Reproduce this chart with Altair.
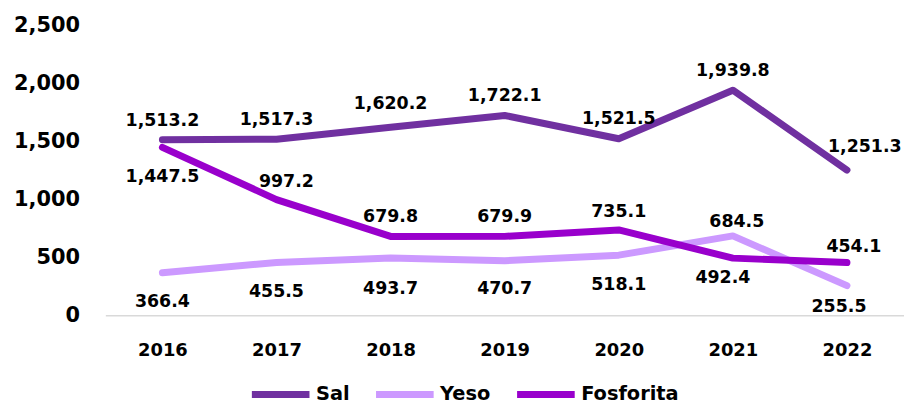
import altair as alt
import pandas as pd

years = [2016, 2017, 2018, 2019, 2020, 2021, 2022]
series_names = ["Sal", "Yeso", "Fosforita"]
sal = [1513.2, 1517.3, 1620.2, 1722.1, 1521.5, 1939.8, 1251.3]
yeso = [366.4, 455.5, 493.7, 470.7, 518.1, 684.5, 255.5]
fosforita = [1447.5, 997.2, 679.8, 679.9, 735.1, 492.4, 454.1]
y_ticks = [0, 500, 1000, 1500, 2000, 2500]

colors = ["#7030A0", "#CC99FF", "#9900CC"]

# label placement (pixel offsets, style only)
label_dy = {
    "Sal": [-19, -19, -23, -20, -20, -19, -23],
    "Yeso": [29, 30, 31, 29, 30, -14, 22],
    "Fosforita": [30, -18, -19, -19, -18, 20, -16],
}
label_dx = {
    "Sal": [0, 0, 0, 0, 0, 0, 18],
    "Yeso": [0, 0, 0, 0, 0, 4, -8],
    "Fosforita": [0, 10, 0, 0, 0, -10, 7],
}

W, H = 804, 292
Y_MAX = 2500
X_MIN, X_MAX = 2015.5, 2022.5

values = {"Sal": sal, "Yeso": yeso, "Fosforita": fosforita}
rows = []
for s in series_names:
    for i, y in enumerate(years):
        rows.append({"year": y, "series": s, "value": values[s][i],
                     "dy": label_dy[s][i], "dx": label_dx[s][i]})
df = pd.DataFrame(rows)

FONT = "DejaVu Sans"

x_scale = alt.Scale(domain=[X_MIN, X_MAX], nice=False, zero=False)
y_scale = alt.Scale(domain=[0, Y_MAX], nice=False)

x_enc = alt.X("year:Q", scale=x_scale,
              axis=alt.Axis(title=None, values=years, format="d", labelAngle=0,
                            ticks=False, grid=False,
                            domainColor="#d9d9d9", domainWidth=1.5,
                            labelFont=FONT, labelFontSize=18, labelFontWeight="bold",
                            labelColor="#000000", labelPadding=26))
y_enc = alt.Y("value:Q", scale=y_scale,
              axis=alt.Axis(title=None, values=y_ticks, format=",.0f", grid=False,
                            domain=False, ticks=False, labelFont=FONT,
                            labelFontSize=21, labelFontWeight="bold",
                            labelColor="#000000", labelPadding=26))

color_enc = alt.Color("series:N",
                      scale=alt.Scale(domain=series_names, range=colors),
                      legend=alt.Legend(title=None, orient="none", direction="horizontal",
                                        legendX=144, legendY=339,
                                        symbolType="stroke", symbolSize=3364,
                                        symbolStrokeWidth=7, labelFont=FONT,
                                        labelFontSize=19.5, labelFontWeight="bold",
                                        labelColor="#000000", labelOffset=3,
                                        columnPadding=12))

lines = alt.Chart(df).mark_line(strokeWidth=7, strokeCap="round", strokeJoin="round").encode(
    x=x_enc, y=y_enc, color=color_enc,
    order=alt.Order("year:Q"),
)

labels = alt.Chart(df).transform_calculate(
    lx=f"datum.year + datum.dx * {(X_MAX - X_MIN) / W}",
    ly=f"datum.value - datum.dy * {Y_MAX / H}",
).mark_text(font=FONT, fontSize=17.5, fontWeight="bold",
            color="#000000", baseline="middle").encode(
    x=alt.X("lx:Q", scale=x_scale),
    y=alt.Y("ly:Q", scale=y_scale),
    text=alt.Text("value:Q", format=",.1f"),
)

chart = alt.layer(lines, labels).properties(
    width=W, height=H,
    autosize=alt.AutoSizeParams(type="none"),
    padding={"left": 98, "top": 16, "right": 0, "bottom": 90},
    background="#ffffff",
).configure_view(stroke=None)

chart.save("out.html", embed_options={"renderer": "svg", "actions": False})
